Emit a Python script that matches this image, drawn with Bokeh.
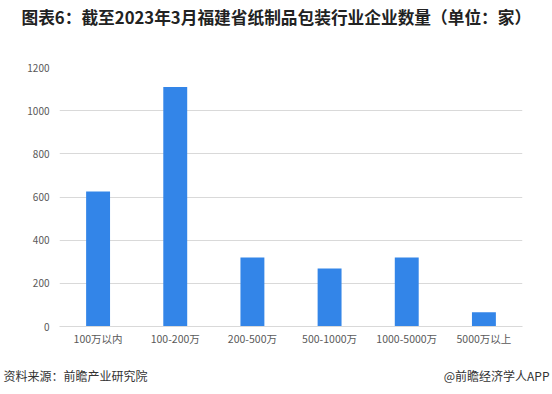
from bokeh.plotting import figure
from bokeh.models import Label, ColumnDataSource
from bokeh.layouts import column
from bokeh.embed import file_html
from bokeh.resources import INLINE

categories = ["100万以内", "100-200万", "200-500万", "500-1000万", "1000-5000万", "5000万以上"]
values = [625, 1110, 320, 269, 320, 66]
y_ticks = [0, 200, 400, 600, 800, 1000, 1200]

title_text = "图表6：截至2023年3月福建省纸制品包装行业企业数量（单位：家）"
source_text = "资料来源：前瞻产业研究院"
credit_text = "@前瞻经济学人APP"

FONT = "Noto Sans CJK SC"
W = 552
HEAD_H, MAIN_H, FOOT_H = 48, 314, 32


def text_panel(height):
    f = figure(width=W, height=height, x_range=(0, 1), y_range=(0, 1),
               x_axis_type=None, y_axis_type=None, output_backend="svg",
               toolbar_location=None, min_border=0)
    f.min_border_left = f.min_border_right = f.min_border_top = f.min_border_bottom = 0
    f.frame_align = False
    f.outline_line_color = None
    f.grid.visible = False
    f.background_fill_color = "white"
    f.border_fill_color = "white"
    return f


# header with title
head = text_panel(HEAD_H)
head.add_layout(Label(x=21, y=HEAD_H - 16, x_units="screen", y_units="screen", text=title_text,
                      text_font=FONT, text_font_size="16.7px", text_font_style="bold",
                      text_color="#222222", text_baseline="middle"))

# main chart
p = figure(x_range=categories, y_range=(0, 1200), width=W, height=MAIN_H,
           output_backend="svg", toolbar_location=None,
           min_border_left=59, min_border_right=30, min_border_top=19, min_border_bottom=36)
p.frame_align = False
p.outline_line_color = None
p.background_fill_color = "white"
p.border_fill_color = "white"

src = ColumnDataSource(dict(cat=categories, val=values))
p.vbar(x="cat", top="val", width=0.31, source=src, color="#3385E8", line_color=None)

p.xgrid.grid_line_color = None
p.ygrid.grid_line_color = "#d9d9d9"
p.ygrid.grid_line_width = 1

p.yaxis.ticker = y_ticks
p.yaxis.axis_line_color = None
p.yaxis.major_tick_line_color = None
p.yaxis.minor_tick_line_color = None
p.yaxis.major_tick_out = 0
p.yaxis.major_tick_in = 0
p.yaxis.major_label_standoff = 10
p.yaxis.major_label_text_font = FONT
p.yaxis.major_label_text_font_size = "10px"
p.yaxis.major_label_text_color = "#595959"

p.xaxis.axis_line_color = "#d9d9d9"
p.xaxis.major_tick_line_color = None
p.xaxis.minor_tick_line_color = None
p.xaxis.major_tick_out = 0
p.xaxis.major_tick_in = 0
p.xaxis.major_label_standoff = 4
p.xaxis.major_label_text_font = FONT
p.xaxis.major_label_text_font_size = "10.5px"
p.xaxis.major_label_text_color = "#595959"

# footer with source and credit
foot = text_panel(FOOT_H)
foot.add_layout(Label(x=3, y=FOOT_H - 13, x_units="screen", y_units="screen", text=source_text,
                      text_font=FONT, text_font_size="12px", text_color="#333333",
                      text_baseline="middle"))
foot.add_layout(Label(x=549, y=FOOT_H - 13, x_units="screen", y_units="screen", text=credit_text,
                      text_font=FONT, text_font_size="12px", text_color="#333333",
                      text_baseline="middle", text_align="right"))

layout = column(head, p, foot, spacing=0)
open("out.html", "w").write(file_html(layout, INLINE))
